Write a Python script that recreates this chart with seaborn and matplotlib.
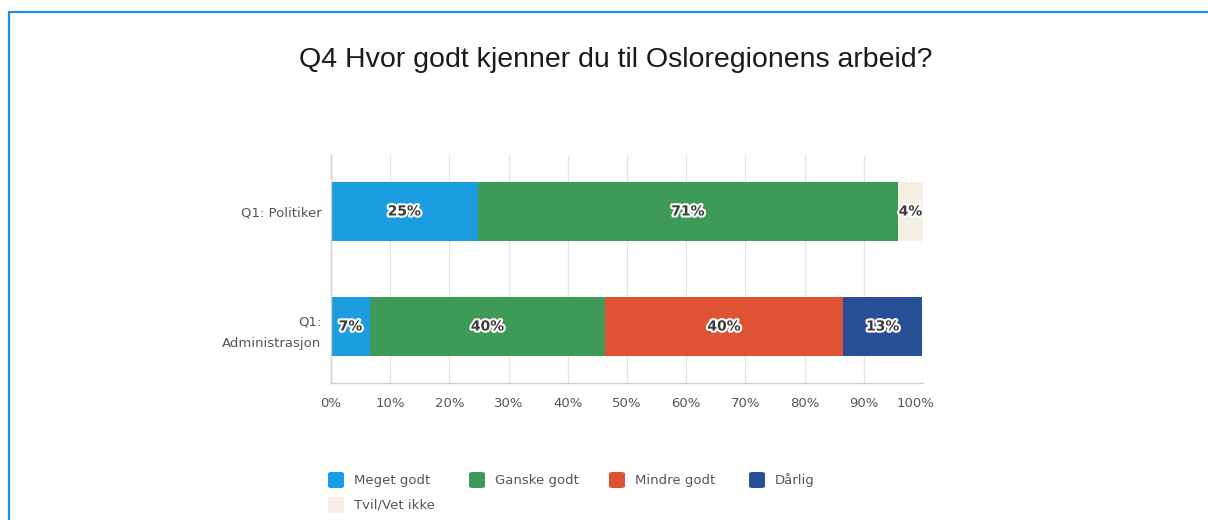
import matplotlib
matplotlib.use("Agg")
import matplotlib.pyplot as plt
import matplotlib.patheffects as pe
import matplotlib.transforms as mtransforms
from matplotlib.patches import FancyBboxPatch
from matplotlib.lines import Line2D
import seaborn as sns
import numpy as np

# ---- data ----
title = "Q4 Hvor godt kjenner du til Osloregionens arbeid?"
categories = ["Q1: Politiker", "Q1:\nAdministrasjon"]
answers = ["Meget godt", "Ganske godt", "Mindre godt", "Dårlig", "Tvil/Vet ikke"]
meget_godt = [24.8, 6.6]
ganske_godt = [71.0, 39.7]
mindre_godt = [0.0, 40.2]
darlig = [0.0, 13.4]
tvil = [4.2, 0.0]
labels_meget = ["25%", "7%"]
labels_ganske = ["71%", "40%"]
labels_mindre = ["", "40%"]
labels_darlig = ["", "13%"]
labels_tvil = ["4%", ""]
x_ticks = [0, 10, 20, 30, 40, 50, 60, 70, 80, 90, 100]
x_ticklabels = ["0%", "10%", "20%", "30%", "40%", "50%", "60%", "70%", "80%", "90%", "100%"]

colors = ["#1b9de0", "#3d9a57", "#df5234", "#274f96", "#f5efe4"]
series = [meget_godt, ganske_godt, mindre_godt, darlig, tvil]
series_labels = [labels_meget, labels_ganske, labels_mindre, labels_darlig, labels_tvil]

sns.set_theme(style="white")
plt.rcParams['font.family'] = ['DejaVu Sans']

W, H = 1208, 520
fig = plt.figure(figsize=(W / 100, H / 100), dpi=100)
ax = fig.add_axes([331 / W, 1 - 383 / H, (923 - 331) / W, (383 - 155) / H])

lefts = np.zeros(len(categories))
text_fx = [pe.withStroke(linewidth=3, foreground="white")]
for vals, col, labs in zip(series, colors, series_labels):
    vals = np.array(vals, dtype=float)
    sns.barplot(x=vals, y=categories, left=lefts, orient="h", color=col,
                width=0.513, linewidth=0, saturation=1, ax=ax, zorder=2)
    for i, (v, lab) in enumerate(zip(vals, labs)):
        if v > 0 and lab:
            ax.text(lefts[i] + v / 2, i, lab, ha="center", va="center",
                    fontsize=10, fontweight="bold", color="#3b3b3b",
                    path_effects=text_fx, zorder=5)
    lefts = lefts + vals

ax.set_xlim(0, 100)
ax.set_ylim(1.491, -0.491)
ax.set_xticks(x_ticks)
ax.set_xticklabels(x_ticklabels)
ax.set_yticks(range(len(categories)))
ax.set_yticklabels(categories, ha="right", multialignment="right", linespacing=1.9)
ax.tick_params(axis="both", length=0, labelsize=9.5, labelcolor="#555555")
ax.tick_params(axis="x", pad=10)
ax.tick_params(axis="y", pad=7)
ax.set_xlabel("")
ax.set_ylabel("")
ax.grid(axis="x", color="#e6e6e6", linewidth=1, zorder=0)
ax.set_axisbelow(True)
for s in ["top", "right"]:
    ax.spines[s].set_visible(False)
for s in ["left", "bottom"]:
    ax.spines[s].set_color("#cfcfcf")
    ax.spines[s].set_linewidth(1)

# last x tick label sits slightly inside the axis end
last = ax.get_xticklabels()[-1]
last.set_transform(last.get_transform() +
                   mtransforms.ScaledTranslation(-7 / 100, 0, fig.dpi_scale_trans))

fig.text(616 / W, 1 - 60 / H, title, ha="center", va="center",
         fontsize=20.5, color="#1a1a1a", family=["Liberation Sans", "DejaVu Sans"])

# legend
leg_pos = [(328, 472), (469, 472), (609, 472), (749, 472), (328, 497)]
for (px, py), name, col in zip(leg_pos, answers, colors):
    patch = FancyBboxPatch((px / W, 1 - (py + 16) / H), 16 / W, 16 / H,
                           boxstyle="round,pad=0,rounding_size=0.003",
                           transform=fig.transFigure, facecolor=col,
                           edgecolor="none")
    fig.add_artist(patch)
    fig.text((px + 26) / W, 1 - (py + 8.5) / H, name, ha="left", va="center",
             fontsize=9.5, color="#555555")

# blue frame
fig.add_artist(Line2D([9 / W, 1], [1 - 12 / H, 1 - 12 / H], transform=fig.transFigure,
                      color="#1a8fe3", linewidth=1.6))
fig.add_artist(Line2D([9 / W, 9 / W], [0, 1 - 12 / H], transform=fig.transFigure,
                      color="#1a8fe3", linewidth=1.6))

fig.savefig("out.png", dpi=100, facecolor="white")
